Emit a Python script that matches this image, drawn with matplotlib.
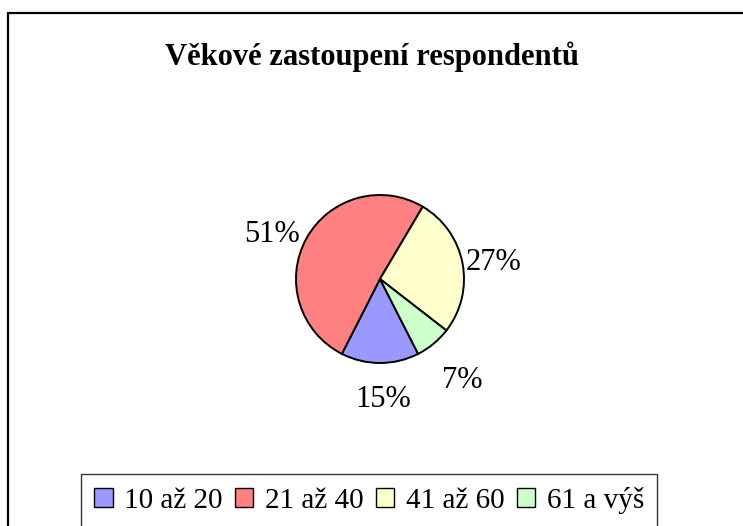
import matplotlib
matplotlib.use("Agg")
import numpy as np
import matplotlib.pyplot as plt
from matplotlib.patches import Rectangle, Patch

categories = ["10 až 20", "21 až 40", "41 až 60", "61 a výš"]
values = [15, 51, 27, 7]
colors = ["#9999FF", "#FF8080", "#FFFFCC", "#CCFFCC"]
title = "Věkové zastoupení respondentů"

W, H = 743, 526
plt.rcParams['font.family'] = ['Liberation Serif', 'DejaVu Serif']
fig = plt.figure(figsize=(W / 100, H / 100), dpi=100)

# outer frame
fig.patches.append(Rectangle((8 / W, -0.1), 2.0, 1 - 13 / H + 0.1, transform=fig.transFigure,
                             fill=False, edgecolor="black", linewidth=1.6))

fig.text(372 / W, 1 - 57 / H, title, ha="center", va="center", fontsize=22,
         fontweight="bold")

cx, cy, r = 380, 279, 84
lim = 1.2
size = 2 * lim * r
ax = fig.add_axes([(cx - size / 2) / W, 1 - (cy + size / 2) / H, size / W, size / H])
wedges, texts = ax.pie(values, colors=colors, startangle=-63, counterclock=False,
                       labels=[f"{v}%" for v in values], labeldistance=1.42,
                       wedgeprops=dict(edgecolor="black", linewidth=1.4),
                       textprops=dict(fontsize=22, ha="center", va="center"))
# small nudges of label placement (in pixels: right, down)
nudges = [(3, 1), (-3, 13), (-4, 6), (6, 10)]
for t, (dx, dy) in zip(texts, nudges):
    t.set_ha("center")
    t.set_va("center")
    x, y = t.get_position()
    t.set_position((x + dx / r, y - dy / r))
ax.set_xlim(-lim, lim)
ax.set_ylim(-lim, lim)
ax.set_aspect("equal")
ax.axis("off")

handles = [Patch(facecolor=c, edgecolor="black", linewidth=1.0) for c in colors]
leg = fig.legend(handles, categories, loc="upper left",
                 bbox_to_anchor=(81 / W, 1 - 474 / H), ncol=4, fontsize=21,
                 frameon=True, fancybox=False, borderpad=0.45, handlelength=0.63,
                 handleheight=0.63, handletextpad=0.4, columnspacing=0.42,
                 borderaxespad=0, edgecolor="black")
leg.get_frame().set_linewidth(1.0)

fig.savefig("out.png", dpi=100)
